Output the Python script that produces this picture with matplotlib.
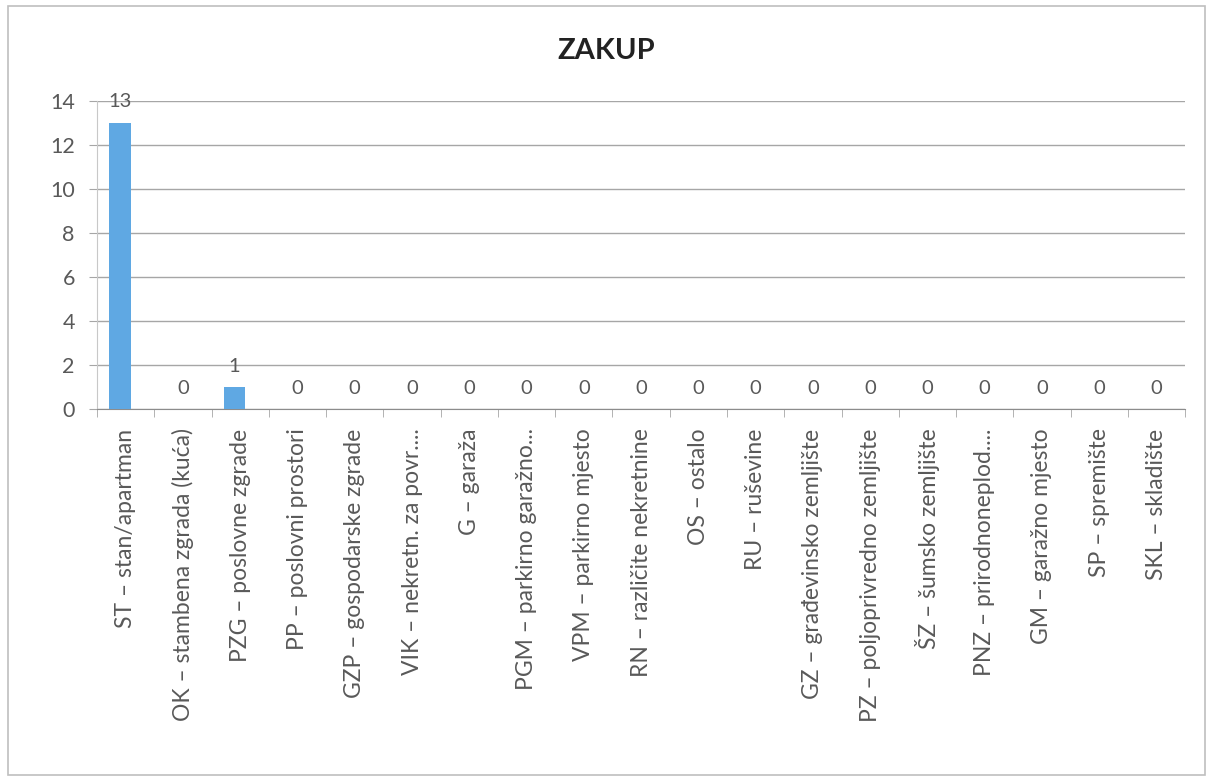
import matplotlib
matplotlib.use('Agg')
import matplotlib.pyplot as plt
from matplotlib.patches import Rectangle

# data
categories = ['ST – stan/apartman', 'OK – stambena zgrada (kuća)', 'PZG – poslovne zgrade',
              'PP – poslovni prostori', 'GZP – gospodarske zgrade', 'VIK – nekretn. za povr....',
              'G – garaža', 'PGM – parkirno garažno...', 'VPM – parkirno mjesto',
              'RN – različite nekretnine', 'OS – ostalo', 'RU – ruševine',
              'GZ – građevinsko zemljište', 'PZ – poljoprivredno zemljište', 'ŠZ – šumsko zemljište',
              'PNZ – prirodnoneplod....', 'GM – garažno mjesto', 'SP – spremište', 'SKL – skladište']
values = [13, 0, 1, 0, 0, 0, 0, 0, 0, 0, 0, 0, 0, 0, 0, 0, 0, 0, 0]
yticks = [0, 2, 4, 6, 8, 10, 12, 14]

plt.rcParams['font.family'] = ['Lato', 'DejaVu Sans']
txt = '#595959'

fig = plt.figure(figsize=(12.13, 7.81), dpi=100)
ax = fig.add_axes([0.080, 0.4763, 0.897, 0.3944])

x = list(range(len(categories)))
bars = ax.bar([i - 0.1 for i in x], values, width=0.38, color='#5fa8e3', zorder=3)

for i, v in enumerate(values):
    ax.annotate(str(v), (i - 0.1 if v else i, v), xytext=(0, 9), textcoords='offset points',
                ha='center', va='bottom', fontsize=14.5, color=txt, zorder=4)

ax.set_xlim(-0.5, len(categories) - 0.5)
ax.set_ylim(0, 14)
ax.set_yticks(yticks)
ax.yaxis.grid(True, color='#a6a6a6', linewidth=1)
ax.set_axisbelow(True)

ax.set_xticks(x)
ax.set_xticklabels(categories, rotation=90, fontsize=16.5, color=txt)
ax.set_xticks([i - 0.5 for i in range(len(categories) + 1)], minor=True)
ax.tick_params(axis='x', which='major', length=0, pad=14)
ax.tick_params(axis='x', which='minor', length=6, color='#a6a6a6')
ax.tick_params(axis='y', length=6, color='#a6a6a6', labelsize=15.5, labelcolor=txt, pad=10)

for s in ['top', 'right']:
    ax.spines[s].set_visible(False)
ax.spines['left'].set_color('#c8c8c8')
ax.spines['bottom'].set_color('#8c8c8c')

# title centred on the whole chart
fig.text(0.5, 0.935, 'ZAKUP', fontsize=21, fontweight='bold', color='#222222',
         ha='center', va='center')

# chart border
fig.patches.append(Rectangle((0.007, 0.008), 0.986, 0.984, transform=fig.transFigure,
                             fill=False, edgecolor='#bfbfbf', linewidth=1.2))

plt.savefig('out.png', dpi=100)
